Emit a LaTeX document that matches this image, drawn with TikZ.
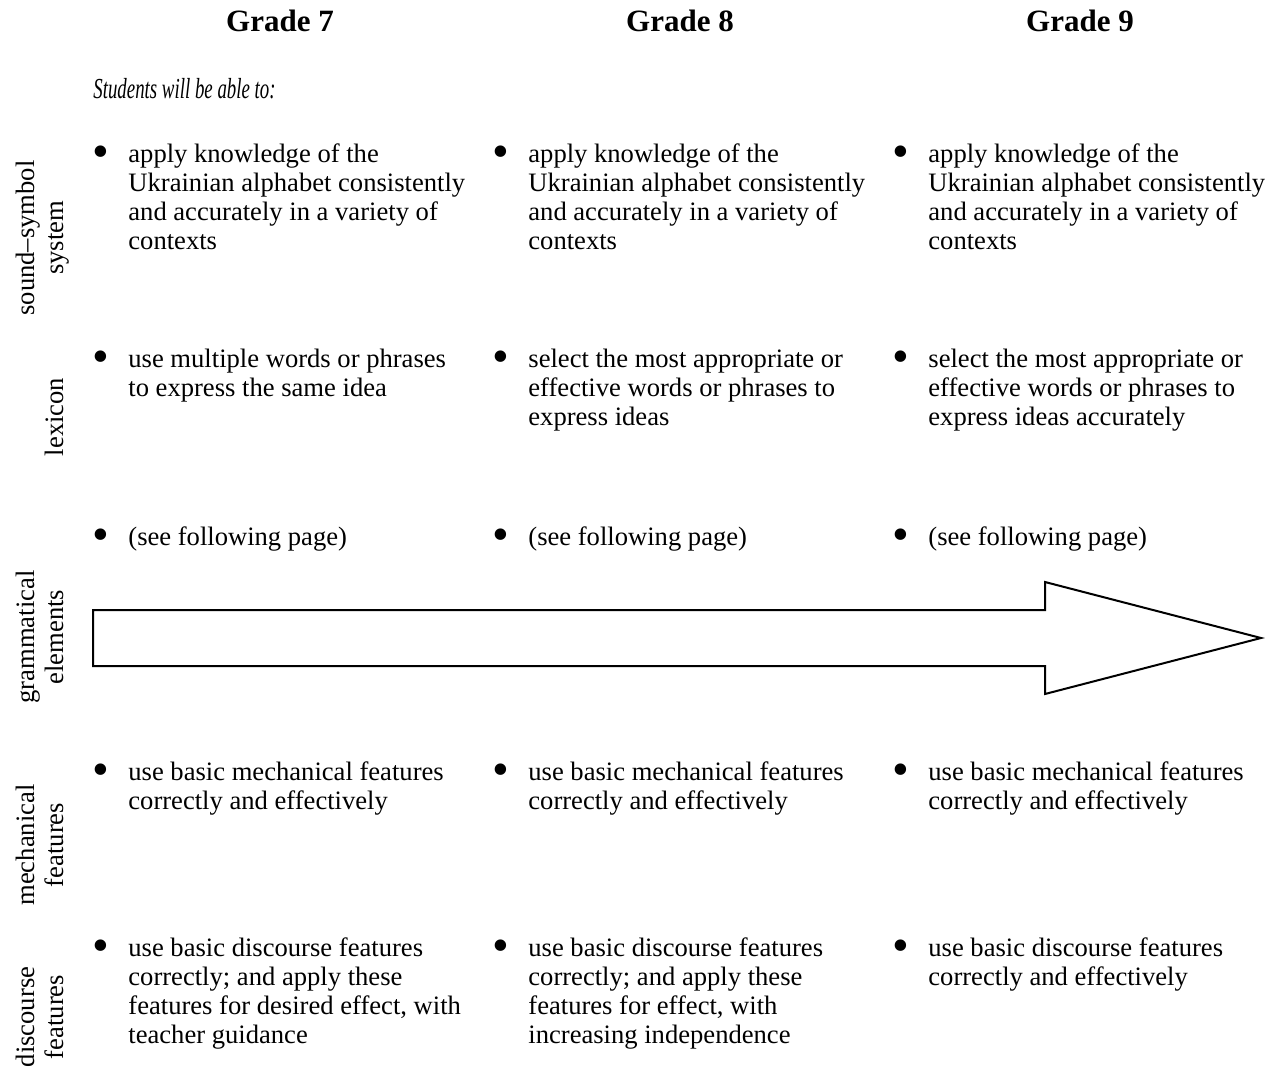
\documentclass[tikz,border=0pt]{standalone}
\usepackage{fontspec}
\setmainfont{Liberation Serif}
\newfontfamily\narrowserif[FakeStretch=0.65]{Liberation Serif}
\usepackage{graphicx}
\usepackage{tikz}
\usetikzlibrary{positioning}

\newcommand{\bodyfont}{\fontsize{13.3pt}{14.5pt}\selectfont}
\newcommand{\bul}{\makebox[17.5pt][l]{\hspace{-0.5pt}\raisebox{-2.5pt}{\scalebox{1.8}{\textbullet}}}}
\newcommand{\ind}{\hspace*{17.5pt}}

\begin{document}
\begin{tikzpicture}[x=0.5pt, y=-0.5pt, node distance=200pt]
\tikzstyle{grade} = [font=\fontsize{15.5pt}{18pt}\selectfont\bfseries, inner sep=0pt, anchor=base]
\tikzstyle{outcome} = [anchor=north west, align=left, inner sep=0pt, font=\bodyfont, execute at begin node=\strut]
\tikzstyle{rowlabel} = [rotate=90, anchor=south, align=center, inner sep=0pt, font=\bodyfont, execute at end node=\strut]
\tikzstyle{bigarrow} = [draw=black, line width=1pt, fill=white]

\useasboundingbox (0,0) rectangle (1275,1071);

% grade headings
\node (g7) [grade] at (280,31) {Grade 7};
\node (g8) [grade, right of=g7] {Grade 8};
\node (g9) [grade, right of=g8] {Grade 9};

\node (intro) [anchor=base west, inner sep=0pt, font=\fontsize{14.5pt}{16pt}\narrowserif\itshape] at (93,98) {Students will be able to:};

% row labels
\node (lsound) [rowlabel] at (73,238) {sound--symbol\\system};
\node (llex) [rowlabel] at (73,417) {lexicon};
\node (lgram) [rowlabel] at (73,637) {grammatical\\elements};
\node (lmech) [rowlabel] at (73,845) {mechanical\\features};
\node (ldisc) [rowlabel] at (73,1017) {discourse\\features};

% sound-symbol system
\node (s7) [outcome] at (93,143) {\bul apply knowledge of the\\\ind Ukrainian alphabet consistently\\\ind and accurately in a variety of\\\ind contexts};
\node (s8) [outcome] at (493,143) {\bul apply knowledge of the\\\ind Ukrainian alphabet consistently\\\ind and accurately in a variety of\\\ind contexts};
\node (s9) [outcome] at (893,143) {\bul apply knowledge of the\\\ind Ukrainian alphabet consistently\\\ind and accurately in a variety of\\\ind contexts};

% lexicon
\node (x7) [outcome] at (93,349) {\bul use multiple words or phrases\\\ind to express the same idea};
\node (x8) [outcome] at (493,349) {\bul select the most appropriate or\\\ind effective words or phrases to\\\ind express ideas};
\node (x9) [outcome] at (893,349) {\bul select the most appropriate or\\\ind effective words or phrases to\\\ind express ideas accurately};

% grammatical elements
\node (e7) [outcome] at (93,525) {\bul (see following page)};
\node (e8) [outcome] at (493,525) {\bul (see following page)};
\node (e9) [outcome] at (893,525) {\bul (see following page)};

\draw [bigarrow] (93,610) -- (1045,610) -- (1045,582) -- (1261,638) -- (1045,694) -- (1045,666) -- (93,666) -- cycle;

% mechanical features
\node (m7) [outcome] at (93,761) {\bul use basic mechanical features\\\ind correctly and effectively};
\node (m8) [outcome] at (493,761) {\bul use basic mechanical features\\\ind correctly and effectively};
\node (m9) [outcome] at (893,761) {\bul use basic mechanical features\\\ind correctly and effectively};

% discourse features
\node (d7) [outcome] at (93,937) {\bul use basic discourse features\\\ind correctly; and apply these\\\ind features for desired effect, with\\\ind teacher guidance};
\node (d8) [outcome] at (493,937) {\bul use basic discourse features\\\ind correctly; and apply these\\\ind features for effect, with\\\ind increasing independence};
\node (d9) [outcome] at (893,937) {\bul use basic discourse features\\\ind correctly and effectively};
\end{tikzpicture}
\end{document}
